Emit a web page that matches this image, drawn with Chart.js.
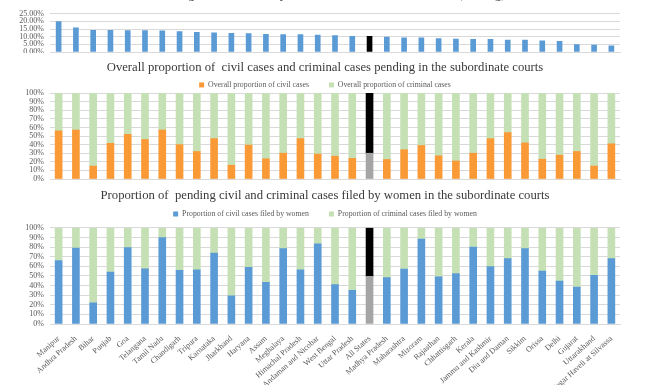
<!DOCTYPE html>
<html>
<head>
<meta charset="utf-8">
<script src="https://cdn.jsdelivr.net/npm/chart.js@4.4.1/dist/chart.umd.min.js"></script>
<style>
    html, body { margin: 0; padding: 0; background: #fff; }
    body { position: relative; width: 650px; height: 385px; overflow: hidden; }
    .painel { position: absolute; left: 0; width: 650px; }
</style>
</head>
<body>
<div class="painel" style="top:-17px;height:70px"><canvas id="graficoRanking"></canvas></div>
<div class="painel" style="top:56px;height:126px"><canvas id="graficoProporcao"></canvas></div>
<div class="painel" style="top:184px;height:201px"><canvas id="graficoMulheres"></canvas></div>
<script>
// States in the order used by all three panels (ranked by share of cases filed by women)
const states = [
    'Manipur', 'Andhra Pradesh', 'Bihar', 'Punjab', 'Goa', 'Telangana', 'Tamil Nadu',
    'Chandigarh', 'Tripura', 'Karnataka', 'Jharkhand', 'Haryana', 'Assam', 'Meghalaya',
    'Himachal Pradesh', 'Andaman and Nicobar', 'West Bengal', 'Uttar Pradesh', 'All States',
    'Madhya Pradesh', 'Maharashtra', 'Mizoram', 'Rajasthan', 'Chhattisgarh', 'Kerala',
    'Jammu and Kashmir', 'Diu and Daman', 'Sikkim', 'Orissa', 'Delhi', 'Gujarat',
    'Uttarakhand', 'Dadra and Nagar Haveli at Silvassa'
];

// top panel: percentage of cases filed by women
const womenFiledPct = [19.8, 15.8, 14.2, 14.2, 14.0, 14.0, 13.8, 13.3, 12.8, 12.5, 12.2, 12.0,
    11.6, 11.4, 11.4, 11.0, 10.8, 10.2, 10.2, 9.8, 9.2, 9.2, 8.7, 8.4, 8.2, 8.2, 7.8, 7.8,
    7.3, 7.0, 4.8, 4.5, 4.0];

// middle panel: overall share of civil / criminal cases pending
const civilShare = [56, 57, 15, 41.5, 52, 46, 57, 40, 32, 47, 16, 39.5, 23.5, 30, 47, 29,
    26.5, 24, 30, 22.7, 34, 39, 27, 21, 30, 47, 54, 42, 23, 27.7, 32, 15, 41];
const criminalShare = [44, 43, 85, 58.5, 48, 54, 43, 60, 68, 53, 84, 60.5, 76.5, 70, 53, 71,
    73.5, 76, 70, 77.3, 66, 61, 73, 79, 70, 53, 46, 58, 77, 72.3, 68, 85, 59];

// bottom panel: share of pending civil / criminal cases filed by women
const womenCivilShare = [66, 79, 22, 54, 79.4, 57.4, 90, 55.7, 56.4, 73.8, 29.4, 58.9, 43.3,
    78.4, 56.4, 83.3, 41, 35, 49.5, 48.2, 57, 88.3, 49, 52.5, 80, 59.6, 68, 78.4, 55, 44.7,
    38.3, 50.5, 68];
const womenCriminalShare = [34, 21, 78, 46, 20.6, 42.6, 10, 44.3, 43.6, 26.2, 70.6, 41.1, 56.7,
    21.6, 43.6, 16.7, 59, 65, 50.5, 51.8, 43, 11.7, 51, 47.5, 20, 40.4, 32, 21.6, 45, 55.3,
    61.7, 49.5, 32];

const titles = [
    'Percentage of cases filed by women in the subordinate courts (ranking)',
    'Overall proportion of  civil cases and criminal cases pending in the subordinate courts',
    'Proportion of  pending civil and criminal cases filed by women in the subordinate courts'
];

const cores = {
    azul: '#5b9bd5',
    laranja: '#f99a36',
    verde: '#c5e0b4',
    cinza: '#a5a5a5',
    preto: '#000000',
    grade: '#d9d9d9',
    texto: '#595959',
    titulo: '#3a3a3a'
};
const serif = '"Liberation Serif", "DejaVu Serif", serif';

// the "All States" bar is highlighted in every panel
function destaque(normal, especial) {
    return (ctx) => states[ctx.dataIndex] === 'All States' ? especial : normal;
}

// plot area runs from x=50 to x=620 in every panel
function eixoY(max, step, formato, stacked) {
    return {
        min: 0, max: max, stacked: stacked,
        border: { display: false },
        grid: { color: cores.grade, drawTicks: false },
        ticks: {
            stepSize: step, autoSkip: false, padding: 6, color: cores.texto,
            font: { family: serif, size: 8 }, callback: formato
        },
        afterFit: (s) => { s.width = 50; s.paddingTop = 0; s.paddingBottom = 0; }
    };
}

// empty axis on the right, keeps the right margin out of the title/legend centring
const margemDireita = {
    position: 'right', display: true,
    grid: { display: false }, border: { display: false }, ticks: { display: false },
    afterFit: (s) => { s.width = 30; s.paddingTop = 0; s.paddingBottom = 0; }
};

function eixoX(altura, mostrarRotulos, stacked) {
    return {
        stacked: stacked,
        border: { color: cores.grade },
        grid: { display: false },
        ticks: {
            display: mostrarRotulos, autoSkip: false, minRotation: 42, maxRotation: 42, padding: 2,
            color: cores.texto, font: { family: serif, size: 8 }
        },
        afterFit: (s) => { s.height = altura; s.paddingLeft = 0; s.paddingRight = 0; }
    };
}

function titulo(texto, padTop, padBottom) {
    return {
        display: true, text: texto, color: cores.titulo,
        font: { family: serif, size: 12.7, weight: 'normal' },
        padding: { top: padTop, bottom: padBottom }
    };
}

function legenda(maxHeight) {
    return {
        display: true, maxHeight: maxHeight,
        labels: { boxWidth: 5, boxHeight: 5, padding: 20, color: cores.texto, font: { family: serif, size: 7.8 } }
    };
}

// top ranking chart
new Chart(document.getElementById('graficoRanking'), {
    type: 'bar',
    data: {
        labels: states,
        datasets: [{
            label: 'Percentage of cases filed by women',
            data: womenFiledPct,
            backgroundColor: destaque(cores.azul, cores.preto),
            barThickness: 5
        }]
    },
    options: {
        responsive: true, maintainAspectRatio: false, animation: false,
        layout: { padding: { left: 0, right: 0, top: 0, bottom: 1 } },
        scales: {
            x: eixoX(0, false, false),
            y: eixoY(25, 5, (v) => v.toFixed(2) + '%', false),
            margem: margemDireita
        },
        plugins: { title: titulo(titles[0], 4, 11.5), legend: { display: false }, tooltip: { enabled: false } }
    }
});

// civil vs criminal share
new Chart(document.getElementById('graficoProporcao'), {
    type: 'bar',
    data: {
        labels: states,
        datasets: [
            { label: 'Overall proportion of civil cases', data: civilShare,
              backgroundColor: destaque(cores.laranja, cores.cinza), barThickness: 7 },
            { label: 'Overall proportion of criminal cases', data: criminalShare,
              backgroundColor: destaque(cores.verde, cores.preto), barThickness: 7 }
        ]
    },
    options: {
        responsive: true, maintainAspectRatio: false, animation: false,
        layout: { padding: { left: 0, right: 0, top: 0, bottom: 3 } },
        scales: {
            x: eixoX(0, false, true),
            y: eixoY(100, 10, (v) => v + '%', true),
            margem: margemDireita
        },
        plugins: { title: titulo(titles[1], 4.4, -14.6), legend: legenda(32), tooltip: { enabled: false } }
    }
});

// cases filed by women
new Chart(document.getElementById('graficoMulheres'), {
    type: 'bar',
    data: {
        labels: states,
        datasets: [
            { label: 'Proportion of civil cases filed by women', data: womenCivilShare,
              backgroundColor: destaque(cores.azul, cores.cinza), barThickness: 7 },
            { label: 'Proportion of criminal cases filed by women', data: womenCriminalShare,
              backgroundColor: destaque(cores.verde, cores.preto), barThickness: 7 }
        ]
    },
    options: {
        responsive: true, maintainAspectRatio: false, animation: false,
        layout: { padding: { left: 0, right: 0, top: 0, bottom: 0 } },
        scales: {
            x: eixoX(61, true, true),
            y: eixoY(100, 10, (v) => v + '%', true),
            margem: margemDireita
        },
        plugins: { title: titulo(titles[2], 4.4, -13.6), legend: legenda(39), tooltip: { enabled: false } }
    }
});
</script>
</body>
</html>
